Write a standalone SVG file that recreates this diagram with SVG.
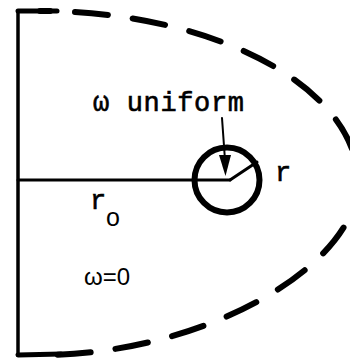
<svg xmlns="http://www.w3.org/2000/svg" width="350" height="361" viewBox="0 0 350 361">
<style>
.ln{fill:none;stroke:#000;stroke-linecap:round;stroke-linejoin:round}
.mono{font-family:"Liberation Mono","DejaVu Sans Mono",monospace;fill:#000;stroke:#000;stroke-width:0.6}
.sans{font-family:"Liberation Sans","DejaVu Sans",sans-serif;fill:#000}
</style>
<rect width="350" height="361" fill="#fff"/>
<g id="boundary">
<line class="ln" x1="18" y1="11" x2="18" y2="355" stroke-width="3.5"/>
<line class="ln" x1="18" y1="11" x2="57" y2="11" stroke-width="5"/>
<line class="ln" x1="18" y1="355" x2="61" y2="354" stroke-width="5"/>
<path class="ln" d="M40,11 C215,11 358,88 358,182 C358,265 205,355 40,355" stroke-width="6" stroke-dasharray="33 25" stroke-dashoffset="23"/>
</g>
<g id="axis">
<line class="ln" x1="18" y1="180" x2="230" y2="180" stroke-width="3"/>
<line class="ln" x1="230" y1="180" x2="257" y2="162" stroke-width="3"/>
</g>
<g id="circle">
<circle cx="227" cy="180" r="32.5" fill="none" stroke="#000" stroke-width="6"/>
</g>
<g id="connectors">
<line class="ln" x1="222" y1="118" x2="225" y2="160" stroke-width="2"/>
<polygon points="219,155 231,155 225.5,176" fill="#000"/>
</g>
<g id="labels">
<text class="mono" x="93" y="111" font-size="27" textLength="151" lengthAdjust="spacing">ω uniform</text>
<text class="mono" x="275" y="181" font-size="27">r</text>
<text class="mono" x="90" y="209" font-size="27">r</text>
<text class="sans" x="106" y="226" font-size="25">o</text>
<text class="sans" x="84" y="285" font-size="24">ω=0</text>
</g>
</svg>
